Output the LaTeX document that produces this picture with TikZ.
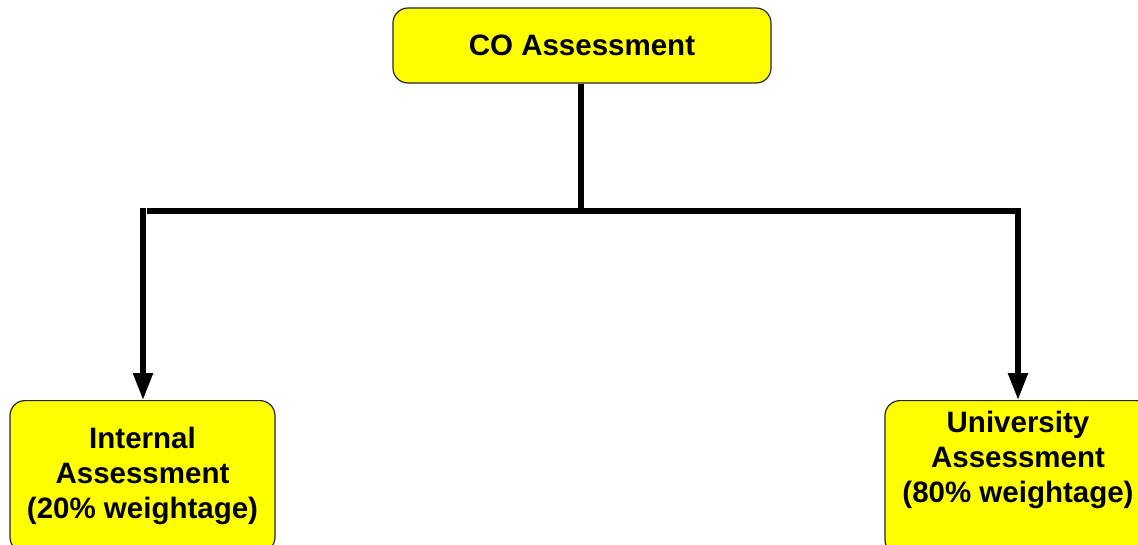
\documentclass[tikz,border=0pt]{standalone}
\usepackage{fontspec}
\setmainfont{Liberation Sans}
\usetikzlibrary{arrows.meta}
\definecolor{boxyellow}{RGB}{255,255,0}
\tikzset{
  box/.style={draw=black!85, line width=1.2pt, fill=boxyellow, rounded corners=15pt,
    align=center, font=\bfseries\fontsize{29.5}{35}\selectfont, inner xsep=0pt},
  conn/.style={line width=5.5pt, black},
  arr/.style={conn, -{Triangle[width=19pt,length=27pt]}, shorten >=0pt}
}
\begin{document}
\begin{tikzpicture}[x=1pt,y=-1pt]
\clip (0,0) rectangle (1138,545);
\fill[white] (0,0) rectangle (1138,545);
\node[box, minimum width=378pt, minimum height=75pt, inner ysep=0pt] (co) at (582,45.5) {CO Assessment};
\node[box, anchor=north, minimum width=265pt, inner ysep=27pt] (ia) at (142.5,400)
  {Internal\\Assessment\\(20\% weightage)};
\node[box, anchor=north, minimum width=266pt, inner ysep=11pt] (ua) at (1018,400)
  {University\\Assessment\\(80\% weightage)\rule[-41pt]{0pt}{0pt}};
\coordinate (j) at (581,211);
\coordinate (hl) at (147,211);
\coordinate (hr) at (1017,211);
\coordinate (vl) at (143,208.5);
\coordinate (vr) at (1018,208.5);
\draw[conn] (co.south -| j) -- (j);
\draw[conn] (hl) -- (hr);
\draw[arr] (vl) -- (vl |- ia.north);
\draw[arr] (vr) -- (ua.north);
\end{tikzpicture}
\end{document}
